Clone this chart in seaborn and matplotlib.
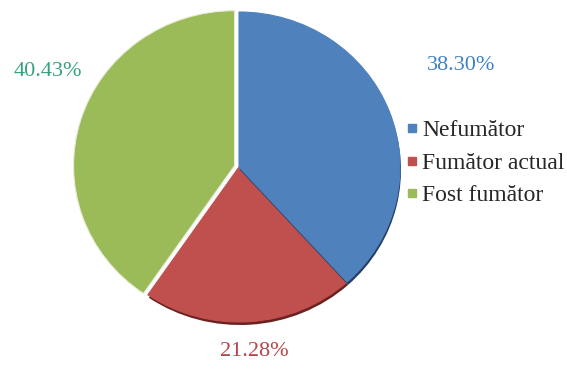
import matplotlib
matplotlib.use("Agg")
import matplotlib.pyplot as plt
from matplotlib.lines import Line2D
import seaborn as sns

# Smoking status distribution
categories = ["Nefumător", "Fumător actual", "Fost fumător"]
shares = [38.30, 21.28, 40.43]
slice_colors = ["#4F81BD", "#C0504D", "#9BBB59"]
shadow_colors = ["#233f63", "#6a2220", "none"]
label_colors = ["#3F82C4", "#B8434B", "#38A07F"]

sns.set_style("white")
plt.rcParams["font.family"] = ["Liberation Serif", "DejaVu Serif"]

W, H = 567, 383
fig = plt.figure(figsize=(W / 100, H / 100), dpi=100)
ax = fig.add_axes([0, 0, 1, 1])

# slightly wider than tall
sx = 155 / 161
cx, cy = 239 * sx, H - 167
r = 155

# soft drop shadow under the red and blue slices
sh = ax.pie(shares, colors=shadow_colors, startangle=90, counterclock=False,
            radius=r, center=(cx + 1 * sx, cy - 3), frame=True,
            wedgeprops=dict(linewidth=0))[0]
# the last slice is pulled out a little (offset in data units)
wedges = ax.pie(shares, colors=slice_colors, startangle=90, counterclock=False,
                radius=r, center=(cx, cy), explode=[0, 0, 4.5], frame=True,
                wedgeprops=dict(linewidth=0.8, edgecolor="#e8ecd8"))[0]
sh[1].set_zorder(1)
wedges[1].set_zorder(2)
sh[0].set_zorder(3)
wedges[0].set_zorder(4)
wedges[2].set_zorder(4)
wedges[0].set_edgecolor("#4F81BD")
wedges[1].set_edgecolor("#C0504D")

ax.set_aspect("auto")
ax.set_xlim(0, W * sx)
ax.set_ylim(0, H)
ax.axis("off")

# percentage labels
label_pos = [(461, 65), (254, 352), (48, 72)]
for val, col, (px, py) in zip(shares, label_colors, label_pos):
    ax.text(px * sx, H - py, f"{val:.2f}%", color=col, fontsize=16,
            ha="center", va="center")

handles = [Line2D([0], [0], marker="s", linestyle="none", markersize=6,
                  markerfacecolor=c, markeredgecolor=c) for c in slice_colors]
fig.legend(handles, categories, loc="center left", bbox_to_anchor=(407 / W, 1 - 163 / H),
           frameon=False, fontsize=17, handlelength=0.45, handletextpad=0.2,
           labelspacing=0.46, borderpad=0, borderaxespad=0)

fig.savefig("out.png", dpi=100)
